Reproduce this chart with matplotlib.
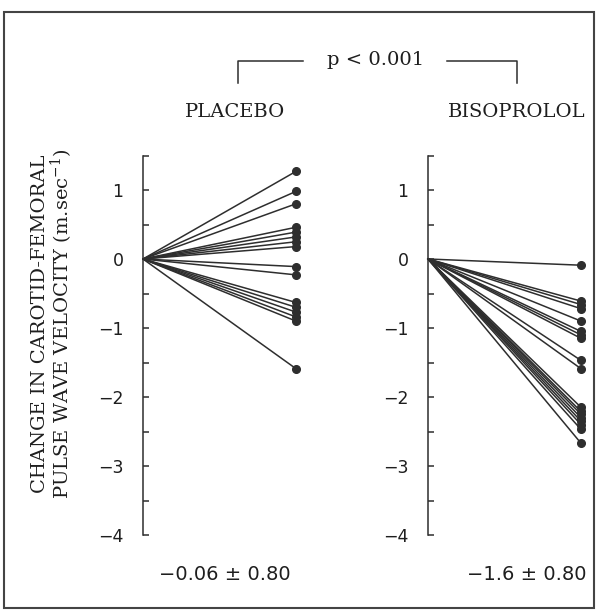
import matplotlib
matplotlib.use("Agg")
import matplotlib.pyplot as plt
from matplotlib.patches import Rectangle
from matplotlib.lines import Line2D

plt.rcParams['mathtext.fontset'] = 'dejavuserif'

groups = ["PLACEBO", "BISOPROLOL"]
placebo_change = [1.27, 0.98, 0.80, 0.46, 0.39, 0.32, 0.25, 0.18,
                  -0.11, -0.23, -0.63, -0.70, -0.77, -0.84, -0.90, -1.59]
bisoprolol_change = [-0.09, -0.61, -0.66, -0.72, -0.90, -1.05, -1.10, -1.15,
                     -1.47, -1.59, -2.15, -2.21, -2.25, -2.30, -2.35, -2.40,
                     -2.47, -2.67]
summaries = ["\u22120.06 \u00b1 0.80", "\u22121.6 \u00b1 0.80"]
p_text = "p < 0.001"
ylabel = "CHANGE IN CAROTID-FEMORAL\nPULSE WAVE VELOCITY (m.sec$^{-1}$)"
yticks_major = [1, 0, -1, -2, -3, -4]
yticks_minor = [1.5, 0.5, -0.5, -1.5, -2.5, -3.5]

W, H = 596, 614
fig = plt.figure(figsize=(W / 100, H / 100), dpi=100)

col = "#2e2e2e"
txtcol = "#1e1e1e"
serif = "DejaVu Serif"

def fx(px):
    return px / W

def fy(py):
    return 1 - py / H

ax_bottom = fy(535)
ax_top = fy(155.5)
lefts = [143, 428]
datasets = [placebo_change, bisoprolol_change]
name_x = [235, 517]
summ_x = [225, 527]

for left, data, name, summ, nx, sx in zip(lefts, datasets, groups, summaries, name_x, summ_x):
    ax = fig.add_axes([fx(left), ax_bottom, fx(153), ax_top - ax_bottom])
    ax.set_xlim(0, 1)
    ax.set_ylim(-4, 1.5)
    for v in data:
        ax.plot([0, 1], [0, v], color=col, lw=1.1, clip_on=False)
        ax.plot([1], [v], 'o', color=col, ms=5.5, clip_on=False)
    for s in ['top', 'right', 'bottom']:
        ax.spines[s].set_visible(False)
    ax.spines['left'].set_color(col)
    ax.spines['left'].set_linewidth(1.1)
    ax.set_xticks([])
    ax.set_yticks(yticks_major)
    ax.set_yticklabels([str(t).replace('-', '\u2212') for t in yticks_major])
    ax.set_yticks(yticks_minor, minor=True)
    ax.tick_params(axis='y', which='both', direction='in', length=4,
                   width=1.1, color=col, pad=14, labelsize=12.5,
                   labelcolor=txtcol)
    ax.patch.set_alpha(0)
    fig.text(fx(nx), fy(112), name, family=serif, fontsize=14,
             ha='center', va='center', color=txtcol)
    fig.text(fx(sx), fy(575), summ, fontsize=14, ha='center', va='center',
             color=txtcol)

# significance bracket
fig.add_artist(Line2D([fx(238), fx(238), fx(303)], [fy(83), fy(61), fy(61)],
                      color=col, lw=1.1))
fig.add_artist(Line2D([fx(447), fx(517), fx(517)], [fy(61), fy(61), fy(83)],
                      color=col, lw=1.1))
fig.text(fx(376), fy(60), p_text, family=serif, fontsize=14,
         ha='center', va='center', color=txtcol)

# y label
fig.text(fx(53), fy(324), ylabel, family=serif, fontsize=14, rotation=90,
         ha='center', va='center', color=txtcol, linespacing=1.0)

# frame
fig.add_artist(Rectangle((fx(4), fy(608)), fx(590), fy(12) - fy(608),
                         fill=False, edgecolor="#444444", lw=1.5,
                         transform=fig.transFigure))

fig.savefig("out.png", dpi=100)
